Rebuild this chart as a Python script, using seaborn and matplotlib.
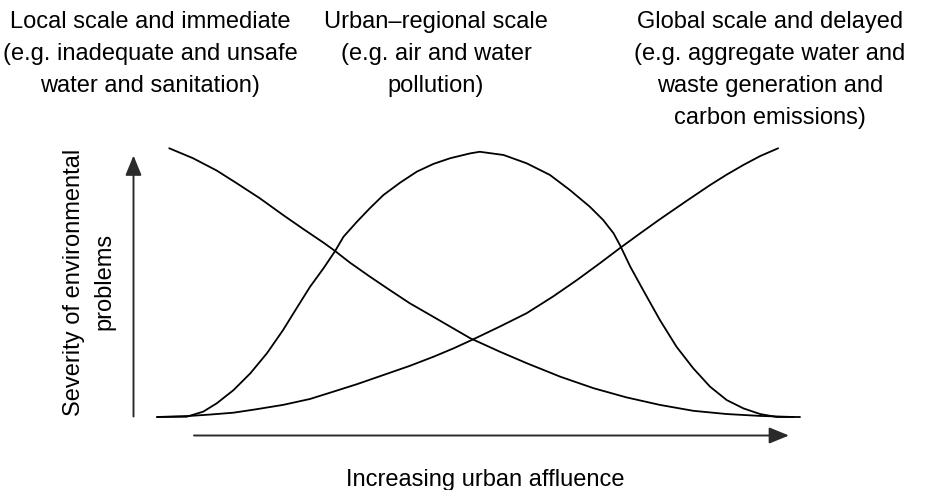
import matplotlib
matplotlib.use("Agg")
import matplotlib.pyplot as plt
import seaborn as sns
import pandas as pd

# Conceptual curves: severity (0-1) against urban affluence (0-1)
local_x = [0.019, 0.056, 0.093, 0.124, 0.160, 0.196, 0.228, 0.259, 0.277, 0.300,
           0.331, 0.362, 0.393, 0.425, 0.456, 0.487, 0.533, 0.575, 0.627, 0.679,
           0.730, 0.782, 0.834, 0.886, 0.938, 0.990]
local_y = [0.999, 0.962, 0.916, 0.869, 0.813, 0.751, 0.698, 0.648, 0.617, 0.574,
           0.522, 0.472, 0.423, 0.379, 0.336, 0.293, 0.243, 0.200, 0.150, 0.107,
           0.073, 0.045, 0.023, 0.011, 0.004, 0.0]

urban_x = [0.0, 0.046, 0.072, 0.093, 0.119, 0.145, 0.171, 0.196, 0.217, 0.238,
           0.259, 0.277, 0.290, 0.311, 0.331, 0.352, 0.378, 0.404, 0.430, 0.456,
           0.487, 0.502, 0.539, 0.575, 0.611, 0.642, 0.673, 0.694, 0.710, 0.720,
           0.736, 0.756, 0.782, 0.808, 0.834, 0.860, 0.886, 0.912, 0.938, 0.964,
           1.0]
urban_y = [0.0, 0.001, 0.020, 0.051, 0.100, 0.162, 0.237, 0.323, 0.404, 0.484,
           0.553, 0.617, 0.670, 0.726, 0.776, 0.825, 0.871, 0.912, 0.941, 0.962,
           0.980, 0.986, 0.974, 0.943, 0.900, 0.844, 0.782, 0.732, 0.683, 0.639,
           0.559, 0.472, 0.361, 0.261, 0.181, 0.113, 0.063, 0.032, 0.011, 0.0,
           0.0]

global_x = [0.0, 0.051, 0.082, 0.119, 0.155, 0.196, 0.238, 0.274, 0.311, 0.352,
            0.393, 0.430, 0.461, 0.492, 0.533, 0.575, 0.616, 0.653, 0.689, 0.720,
            0.751, 0.782, 0.824, 0.860, 0.886, 0.912, 0.938, 0.966]
global_y = [0.0, 0.004, 0.009, 0.016, 0.029, 0.045, 0.067, 0.094, 0.122, 0.156,
            0.190, 0.224, 0.255, 0.289, 0.336, 0.386, 0.448, 0.509, 0.572, 0.628,
            0.682, 0.735, 0.804, 0.862, 0.901, 0.937, 0.970, 0.999]

top_labels = [
    ["Local scale and immediate", "(e.g. inadequate and unsafe", "water and sanitation)"],
    ["Urban\u2013regional scale", "(e.g. air and water", "pollution)"],
    ["Global scale and delayed", "(e.g. aggregate water and", "waste generation and",
     "carbon emissions)"],
]
y_label_lines = ["Severity of environmental", "problems"]
x_label = "Increasing urban affluence"

sns.set_style("white")
plt.rcParams["font.family"] = ["Liberation Sans", "DejaVu Sans"]

W, H = 928, 490
fig = plt.figure(figsize=(W / 100, H / 100), dpi=100)


def fx(x):
    return x / W


def fy(y):
    return 1 - y / H


# Plot area: affluence 0..1 spans x 157..800 px, severity 0..1 spans y 417..148 px
ax = fig.add_axes([fx(157), fy(417), (800 - 157) / W, (417 - 148) / H])
ax.set_xlim(0, 1)
ax.set_ylim(0, 1)
ax.axis("off")

for xs, ys in [(local_x, local_y), (urban_x, urban_y), (global_x, global_y)]:
    df = pd.DataFrame({"affluence": xs, "severity": ys})
    sns.lineplot(data=df, x="affluence", y="severity", ax=ax, color="black",
                 linewidth=1.3, sort=False, estimator=None)
for line in ax.get_lines():
    line.set_clip_on(False)
    line.set_solid_joinstyle("round")
    line.set_solid_capstyle("round")

# Axis arrows
arrow_style = "-|>,head_length=1.1,head_width=0.45"
ax.annotate("", xy=(fx(133.5), fy(155.5)), xytext=(fx(133.5), fy(416.5)),
            xycoords="figure fraction", textcoords="figure fraction",
            arrowprops=dict(arrowstyle=arrow_style, color="#2a2a2a", lw=1.4,
                            mutation_scale=11, shrinkA=0, shrinkB=0))
ax.annotate("", xy=(fx(789), fy(435.5)), xytext=(fx(194), fy(435.5)),
            xycoords="figure fraction", textcoords="figure fraction",
            arrowprops=dict(arrowstyle=arrow_style, color="#2a2a2a", lw=1.4,
                            mutation_scale=11, shrinkA=0, shrinkB=0))

# Category descriptions above the curves
centers = [150, 436, 770]
fs = 17.0
for cx, lines in zip(centers, top_labels):
    for i, txt in enumerate(lines):
        fig.text(fx(cx), fy(28 + 32 * i), txt, ha="center", va="baseline",
                 fontsize=fs, color="black")

# Axis titles
fig.text(fx(74), fy(282), y_label_lines[0], rotation=90, ha="center",
         va="center", fontsize=fs, color="black")
fig.text(fx(104), fy(281), y_label_lines[1], rotation=90, ha="center",
         va="center", fontsize=fs, color="black")
fig.text(fx(485), fy(486), x_label, ha="center", va="baseline",
         fontsize=fs, color="black")

fig.savefig("out.png", dpi=100, facecolor="white")
